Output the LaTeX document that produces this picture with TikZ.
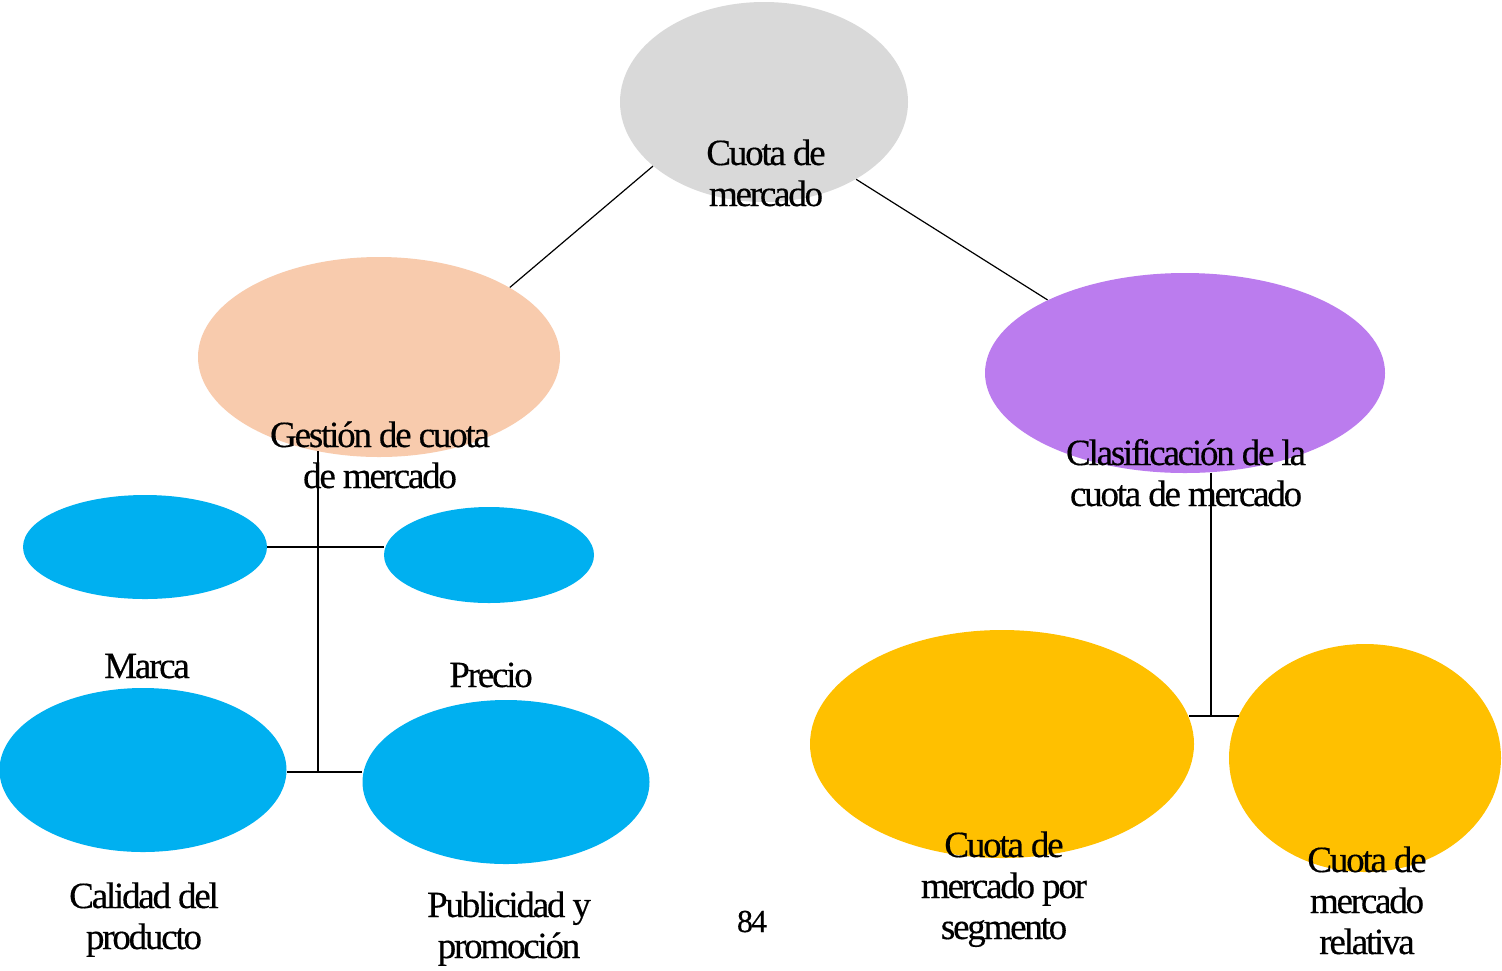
\documentclass[tikz,border=0pt]{standalone}
\usepackage{fontspec}
\setmainfont{Liberation Serif}[LetterSpace=-6,FakeBold=0.4]
\usetikzlibrary{shapes.geometric}
\definecolor{cgray}{HTML}{D9D9D9}
\definecolor{cpeach}{HTML}{F8CBAD}
\definecolor{cpurple}{HTML}{BB7CEE}
\definecolor{cblue}{HTML}{00B0F0}
\definecolor{cyellow}{HTML}{FFC000}
\newcommand\mylines[1]{\vtop{\baselineskip=20.5pt\lineskiplimit=-10pt\halign{\hfil##\hfil\cr#1\crcr}}}
\tikzset{
  blob/.style={ellipse, draw=none, inner sep=0pt},
  txt/.style={anchor=base, inner sep=0pt, font=\fontsize{18.5pt}{20.5pt}\selectfont},
  conn/.style={draw=black, line width=0.6pt}
}
\begin{document}
\begin{tikzpicture}[x=0.5pt,y=-0.5pt]
\fill[white] (0,0) rectangle (1502,970);
\useasboundingbox (0,0) rectangle (1502,970);
% ellipses
\node[blob, fill=cgray, minimum width=144pt, minimum height=100pt] (g) at (764,102) {};
\node[blob, fill=cpeach, minimum width=181pt, minimum height=100pt] (p) at (379,357) {};
\node[blob, fill=cpurple, minimum width=200pt, minimum height=100pt] (cl) at (1185,373) {};
\node[blob, fill=cblue, minimum width=122pt, minimum height=52pt] (ma) at (145,547) {};
\node[blob, fill=cblue, minimum width=105pt, minimum height=48pt] (pr) at (489,555) {};
\node[blob, fill=cblue, minimum width=143.5pt, minimum height=82pt] (ca) at (143,770) {};
\node[blob, fill=cblue, minimum width=143.5pt, minimum height=82pt] (pu) at (506,782) {};
\node[blob, fill=cyellow, minimum width=192pt, minimum height=114pt] (se) at (1002,744) {};
\node[blob, fill=cyellow, minimum width=136pt, minimum height=114pt] (re) at (1365,758) {};
% connectors
\coordinate (lj) at (318,772);
\coordinate (rj) at (1211,716);
\draw[conn] (g.210.7) -- (p.28.1);
\draw[conn] (g.320.3) -- (cl.152.5);
\draw[conn] (lj |- p.237) -- (lj);
\draw[conn] (ma.east) -- (pr.west |- ma.east);
\draw[conn] (ca.east |- lj) -- (pu.west |- lj);
\draw[conn] (rj |- cl.284.6) -- (rj);
\draw[conn] (se.8.56 |- rj) -- (re.161.6 |- rj);
% texts
\node[txt] (tg) at (766,165) {\mylines{Cuota de\cr mercado}};
\node[txt] (tp) at (380,447) {\mylines{Gestión de cuota\cr de mercado}};
\node[txt] (tcl) at (1186,465) {\mylines{Clasificación de la\cr cuota de mercado}};
\node[txt] (tma) at (147,678) {Marca};
\node[txt] (tpr) at (491,687) {Precio};
\node[txt] (tca) at (144,908) {\mylines{Calidad del\cr producto}};
\node[txt] (tpu) at (509,917) {\mylines{Publicidad y\cr promoción}};
\node[txt] (tse) at (1004,857) {\mylines{Cuota de\cr mercado por\cr segmento}};
\node[txt] (tre) at (1367,872) {\mylines{Cuota de\cr mercado\cr relativa}};
\node[txt, font=\fontsize{16pt}{18pt}\selectfont] (pg) at (752,932) {84};
\end{tikzpicture}
\end{document}
